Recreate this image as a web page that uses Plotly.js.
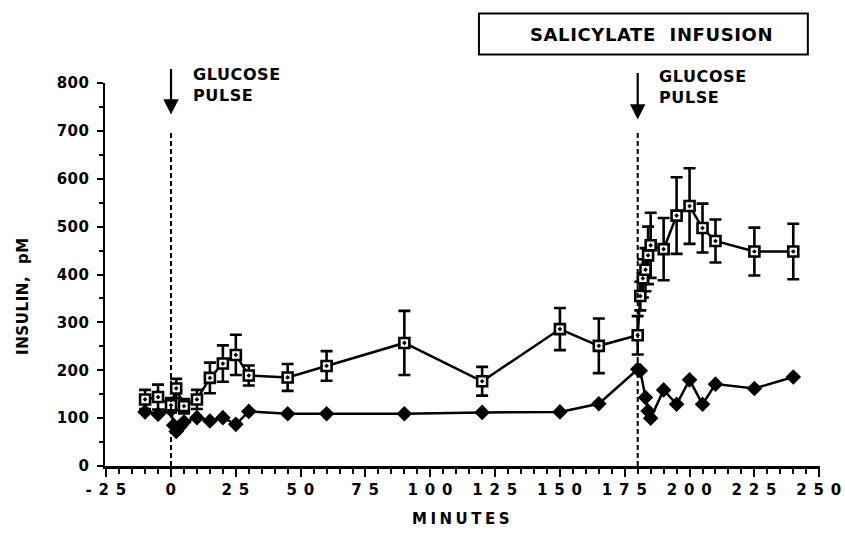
<!DOCTYPE html>
<html>
<head>
<meta charset="utf-8">
<script src="https://cdn.plot.ly/plotly-3.0.1.min.js"></script>
<style>
  html, body { margin: 0; padding: 0; background: #fff; }
  #chart { width: 845px; height: 537px; }
  .xtitle { letter-spacing: 3.5px; }
  .xtick text { letter-spacing: 0.8px; }
  .ytick text { letter-spacing: 0.5px; }
  .annotation-text { letter-spacing: 0.6px; }
</style>
</head>
<body>
<div id="chart"></div>
<script>
// Open squares (with SEM error bars)
const minutesSq = [-10, -5, 0, 2, 5, 10, 15, 20, 25, 30, 45, 60, 90, 120, 150, 165, 180, 181, 182, 183, 184, 185, 190, 195, 200, 205, 210, 225, 240];
const insulinSq = [139, 144, 127, 162, 125, 139, 184, 214, 232, 189, 185, 209, 257, 177, 286, 251, 273, 355, 392, 410, 440, 461, 453, 523, 543, 497, 470, 448, 448];
const errorSq   = [20, 26, 15, 20, 15, 20, 32, 38, 42, 21, 28, 31, 67, 30, 44, 57, 40, 30, 40, 45, 60, 68, 65, 80, 79, 51, 45, 50, 58];

// Filled diamonds
const minutesDm = [-10, -5, 0, 1, 2, 3, 4, 5, 10, 15, 20, 25, 30, 45, 60, 90, 120, 150, 165, 180, 181, 183, 184, 185, 190, 195, 200, 205, 210, 225, 240];
const insulinDm = [113, 108, 117, 85, 72, 80, 86, 92, 101, 94, 101, 87, 114, 109, 109, 109, 112, 113, 130, 202, 199, 143, 115, 100, 159, 129, 180, 129, 171, 162, 186];

// Axis ticks
const xTickVals = [-25, 0, 25, 50, 75, 100, 125, 150, 175, 200, 225, 250];
const xTickText = ['- 2 5', '0', '2 5', '5 0', '7 5', '1 0 0', '1 2 5', '1 5 0', '1 7 5', '2 0 0', '2 2 5', '2 5 0'];
const yTickVals = [0, 100, 200, 300, 400, 500, 600, 700, 800];
const yTickText = ['0', '100', '200', '300', '400', '500', '600', '700', '800'];

// Glucose pulse times
const pulseTimes = [0, 180];

const FONT = 'DejaVu Sans, Arial, sans-serif';

const traceDm = {
  x: minutesDm, y: insulinDm,
  type: 'scatter', mode: 'lines+markers',
  line: { color: '#000', width: 2.5 },
  marker: { symbol: 'diamond', size: 12, color: '#000' },
  cliponaxis: false,
  showlegend: false, hoverinfo: 'skip'
};

const traceSq = {
  x: minutesSq, y: insulinSq,
  type: 'scatter', mode: 'lines+markers',
  line: { color: '#000', width: 2.5 },
  marker: { symbol: 'square-dot', size: 10, color: '#fff', line: { color: '#000', width: 2.6 } },
  error_y: { type: 'data', array: errorSq, visible: true, color: '#000', thickness: 2.6, width: 6 },
  cliponaxis: false,
  showlegend: false, hoverinfo: 'skip'
};

const shapes = pulseTimes.map(t => ({
  type: 'line', xref: 'x', yref: 'y',
  x0: t, x1: t, y0: 0, y1: 700,
  line: { color: '#000', width: 2, dash: '5px,3px' }
}));
shapes.push({
  type: 'rect', xref: 'paper', yref: 'paper',
  x0: 0.523, x1: 0.983, y0: 1.0745, y1: 1.1815,
  line: { color: '#000', width: 2 }, fillcolor: 'rgba(0,0,0,0)'
});

const annotations = [
  // arrows
  { x: pulseTimes[0], y: 0.9176, xref: 'x', yref: 'paper', text: '', showarrow: true,
    ax: 0, ay: -47, arrowhead: 2, arrowsize: 1.4, arrowwidth: 2.2, arrowcolor: '#000' },
  { x: pulseTimes[1], y: 0.9046, xref: 'x', yref: 'paper', text: '', showarrow: true,
    ax: 0, ay: -48, arrowhead: 2, arrowsize: 1.4, arrowwidth: 2.2, arrowcolor: '#000' },
  // labels
  { x: 7.9, y: 0.9935, xref: 'x', yref: 'paper', xanchor: 'left', yanchor: 'middle', align: 'left',
    text: '<b>GLUCOSE<br>PULSE</b>', showarrow: false, font: { family: FONT, size: 16, color: '#000' } },
  { x: 187.5, y: 0.9895, xref: 'x', yref: 'paper', xanchor: 'left', yanchor: 'middle', align: 'left',
    text: '<b>GLUCOSE<br>PULSE</b>', showarrow: false, font: { family: FONT, size: 16, color: '#000' } },
  { x: 0.765, y: 1.1268, xref: 'paper', yref: 'paper', xanchor: 'center', yanchor: 'middle',
    text: '<b>SALICYLATE\u00A0\u00A0INFUSION</b>', showarrow: false, font: { family: FONT, size: 18, color: '#000' } },
  // y axis title (pixel position, converted below)
  { x: 12, y: 296, xref: 'paper', yref: 'paper', text: '<b>INSULIN,\u00A0\u00A0pM</b>', showarrow: false,
    textangle: -90, font: { family: FONT, size: 15, color: '#000' } }
];

// convert y-title pixel position into paper coords
(function () {
  const a = annotations[annotations.length - 1];
  const l = 105, r = 25, t = 83, b = 71, W = 845, H = 537;
  a.x = (a.x - l) / (W - l - r);
  a.y = (H - b - a.y) / (H - t - b);
})();

const layout = {
  width: 845, height: 537,
  margin: { l: 105, r: 25, t: 83, b: 71 },
  paper_bgcolor: '#fff', plot_bgcolor: '#fff',
  font: { family: FONT, color: '#000' },
  showlegend: false,
  xaxis: {
    range: [-25.46, 250.31],
    tickmode: 'array', tickvals: xTickVals, ticktext: xTickText,
    ticks: 'outside', ticklen: 8, tickwidth: 2, tickcolor: '#000',
    minor: { dtick: 5, tick0: 0, ticks: 'outside', ticklen: 5, tickwidth: 2, tickcolor: '#000', showgrid: false },
    showline: true, linecolor: '#000', linewidth: 2.5,
    showgrid: false, zeroline: false,
    tickfont: { family: FONT, size: 15, color: '#000', weight: 'bold' },
    title: { text: '<b>MINUTES</b>', font: { family: FONT, size: 15, color: '#000' }, standoff: 16 }
  },
  yaxis: {
    range: [0, 800],
    tickmode: 'array', tickvals: yTickVals, ticktext: yTickText,
    ticks: 'outside', ticklen: 6, tickwidth: 2, tickcolor: '#000',
    minor: { dtick: 50, tick0: 0, ticks: 'outside', ticklen: 4, tickwidth: 2, tickcolor: '#000', showgrid: false },
    showline: true, linecolor: '#000', linewidth: 2.5,
    showgrid: false, zeroline: false,
    ticklabelstandoff: 4,
    tickfont: { family: FONT, size: 15, color: '#000', weight: 'bold' }
  },
  shapes: shapes,
  annotations: annotations
};

Plotly.newPlot('chart', [traceDm, traceSq], layout, { displayModeBar: false, staticPlot: true });
</script>
</body>
</html>
